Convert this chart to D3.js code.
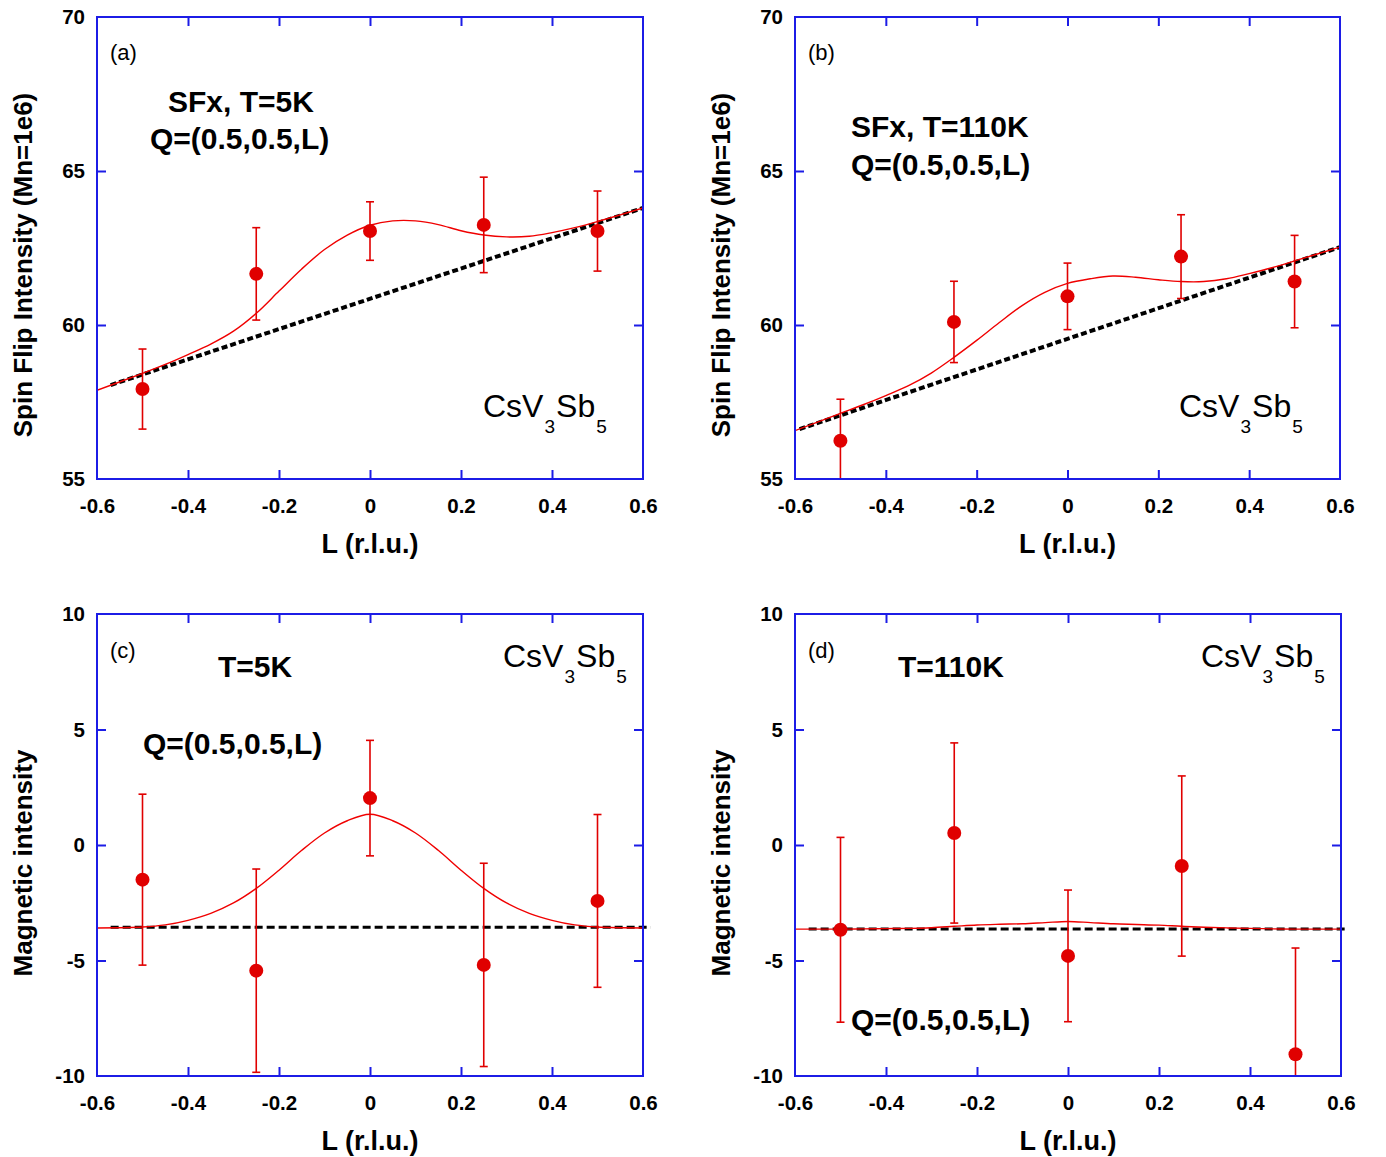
<!DOCTYPE html>
<html>
<head>
<meta charset="utf-8">
<script src="https://cdn.jsdelivr.net/npm/d3@7"></script>
<style>
  html, body { margin: 0; padding: 0; background: #fff; }
  svg { display: block; font-family: "Liberation Sans", Arial, Helvetica, sans-serif; }
</style>
</head>
<body>
<svg id="fig" width="1386" height="1157"></svg>
<script>
// ---- measured points: L positions shared by all four scans ----
const scanL = [-0.5, -0.25, 0, 0.25, 0.5];

// (a) spin-flip x, T = 5 K
const sf5K      = [57.92, 61.66, 63.05, 63.25, 63.05];
const sf5KErr   = [1.30, 1.50, 0.95, 1.55, 1.30];
// (b) spin-flip x, T = 110 K
const sf110K    = [56.24, 60.10, 60.93, 62.22, 61.41];
const sf110KErr = [1.35, 1.32, 1.08, 1.36, 1.50];
// (c) magnetic intensity, T = 5 K
const mag5K     = [-1.50, -5.44, 2.03, -5.19, -2.42];
const mag5KErr  = [3.70, 4.40, 2.50, 4.40, 3.74];
// (d) magnetic intensity, T = 110 K
const mag110K   = [-3.67, 0.52, -4.80, -0.91, -9.06];
const mag110KErr= [4.00, 3.90, 2.85, 3.90, 4.60];

// ---- fitted curves (sampled along L) ----
const fitL = [-0.6, -0.5, -0.45, -0.4, -0.35, -0.3, -0.25, -0.2, -0.15, -0.1, -0.05, 0, 0.05, 0.1, 0.15, 0.2, 0.25, 0.3, 0.35, 0.4, 0.45, 0.5, 0.6];
const fit5K     = [57.88, 58.43, 58.72, 59.04, 59.38, 59.80, 60.38, 61.10, 61.82, 62.45, 62.92, 63.24, 63.38, 63.38, 63.26, 63.06, 62.92, 62.86, 62.88, 63.00, 63.16, 63.36, 63.80];
const fit110K   = [56.57, 57.13, 57.41, 57.71, 58.03, 58.44, 58.95, 59.50, 60.08, 60.63, 61.06, 61.35, 61.50, 61.59, 61.55, 61.47, 61.41, 61.41, 61.50, 61.67, 61.86, 62.08, 62.53];
const fitMag5K  = [-3.59, -3.55, -3.46, -3.26, -2.96, -2.51, -1.88, -1.09, -0.23, 0.52, 1.05, 1.33, 1.05, 0.52, -0.23, -1.09, -1.88, -2.51, -2.96, -3.26, -3.46, -3.55, -3.59];
const fitMag110K= [-3.64, -3.64, -3.63, -3.62, -3.61, -3.58, -3.52, -3.46, -3.43, -3.41, -3.36, -3.31, -3.36, -3.41, -3.44, -3.47, -3.52, -3.56, -3.59, -3.61, -3.63, -3.64, -3.64];

// ---- linear backgrounds (end points) ----
const bg5KL     = [-0.57, 0.6],  bg5K     = [58.05, 63.80];
const bg110KL   = [-0.59, 0.6],  bg110K   = [56.62, 62.53];
const bgMag5KL  = [-0.57, 0.617], bgMag5K = [-3.56, -3.56];
const bgMag110KL= [-0.57, 0.61], bgMag110K= [-3.64, -3.64];

// ---- axes ----
const xTicks = [-0.6, -0.4, -0.2, 0, 0.2, 0.4, 0.6];
const xTickLabels = ["-0.6", "-0.4", "-0.2", "0", "0.2", "0.4", "0.6"];
const sfTicks = [55, 60, 65, 70];
const sfTickLabels = ["55", "60", "65", "70"];
const magTicks = [-10, -5, 0, 5, 10];
const magTickLabels = ["-10", "-5", "0", "5", "10"];

const BLUE = "#1c1ce6";
const RED = "#e00000";

const svg = d3.select("#fig");
svg.append("rect").attr("width", 1386).attr("height", 1157).attr("fill", "#fff");

function drawPanel(p) {
  const x = d3.scaleLinear().domain([-0.6, 0.6]).range([p.x0, p.x1]);
  const y = d3.scaleLinear().domain(p.yDomain).range([p.y1, p.y0]);
  const g = svg.append("g");

  const clipId = "clip-" + p.id;
  g.append("clipPath").attr("id", clipId)
    .append("rect").attr("x", p.x0).attr("y", p.y0)
    .attr("width", p.x1 - p.x0).attr("height", p.y1 - p.y0);

  // background line (dashed)
  const bgData = p.bgL.map((l, i) => [l, p.bg[i]]);
  g.append("path")
    .attr("d", d3.line().x(d => x(d[0])).y(d => y(d[1]))(bgData))
    .attr("fill", "none").attr("stroke", "#000")
    .attr("stroke-width", p.dashWidth).attr("stroke-dasharray", p.dash);

  // fitted curve
  const fitData = fitL.map((l, i) => [l, p.fit[i]]);
  g.append("path")
    .attr("clip-path", `url(#${clipId})`)
    .attr("d", d3.line().curve(d3.curveCatmullRom.alpha(0.5)).x(d => x(d[0])).y(d => y(d[1]))(fitData))
    .attr("fill", "none").attr("stroke", "#f00000").attr("stroke-width", 1.4);

  // error bars and points
  const pts = scanL.map((l, i) => ({ l, v: p.vals[i], e: p.errs[i] }));
  const eg = g.append("g").attr("clip-path", `url(#${clipId})`)
    .attr("stroke", RED).attr("stroke-width", 1.6);
  pts.forEach(d => {
    const cx = x(d.l);
    eg.append("line").attr("x1", cx).attr("x2", cx).attr("y1", y(d.v - d.e)).attr("y2", y(d.v + d.e));
    eg.append("line").attr("x1", cx - 4).attr("x2", cx + 4).attr("y1", y(d.v + d.e)).attr("y2", y(d.v + d.e));
    eg.append("line").attr("x1", cx - 4).attr("x2", cx + 4).attr("y1", y(d.v - d.e)).attr("y2", y(d.v - d.e));
  });
  g.selectAll("circle.pt").data(pts).join("circle")
    .attr("class", "pt")
    .attr("cx", d => x(d.l)).attr("cy", d => y(d.v)).attr("r", 7)
    .attr("fill", RED);

  // axes: ticks point inward on all four sides
  const tickLen = 9;
  const styleAxis = sel => {
    sel.select(".domain").remove();
    sel.selectAll(".tick line").attr("stroke", BLUE).attr("stroke-width", 2);
    sel.selectAll(".tick text").attr("fill", "#000").attr("font-size", 20.5)
      .attr("font-weight", "bold").attr("font-family", "Liberation Sans, Arial, sans-serif");
  };
  const xInner = xTicks.filter(t => t > -0.6 && t < 0.6);
  g.append("g").attr("transform", `translate(0,${p.y1})`)
    .call(d3.axisBottom(x).tickValues(xTicks).tickSize(-tickLen).tickPadding(19)
      .tickFormat((d, i) => xTickLabels[i]))
    .call(styleAxis)
    .call(s => s.selectAll(".tick line").filter(d => !xInner.includes(d)).remove());
  g.append("g").attr("transform", `translate(0,${p.y0})`)
    .call(d3.axisTop(x).tickValues(xInner).tickSize(-tickLen).tickFormat(""))
    .call(styleAxis);
  const yInner = p.yTicks.slice(1, -1);
  g.append("g").attr("transform", `translate(${p.x0},0)`)
    .call(d3.axisLeft(y).tickValues(p.yTicks).tickSize(-tickLen).tickPadding(12)
      .tickFormat((d, i) => p.yTickLabels[i]))
    .call(styleAxis)
    .call(s => s.selectAll(".tick line").filter(d => !yInner.includes(d)).remove());
  g.append("g").attr("transform", `translate(${p.x1},0)`)
    .call(d3.axisRight(y).tickValues(yInner).tickSize(-tickLen).tickFormat(""))
    .call(styleAxis);

  // frame
  g.append("rect").attr("x", p.x0).attr("y", p.y0)
    .attr("width", p.x1 - p.x0).attr("height", p.y1 - p.y0)
    .attr("fill", "none").attr("stroke", BLUE).attr("stroke-width", 2);

  // axis titles
  g.append("text")
    .attr("x", (p.x0 + p.x1) / 2).attr("y", p.y1 + 74)
    .attr("text-anchor", "middle").attr("font-size", 27).attr("font-weight", "bold")
    .text("L (r.l.u.)");
  g.append("text")
    .attr("transform", `translate(${p.x0 - 65},${(p.y0 + p.y1) / 2 + p.yTitleShift}) rotate(-90)`)
    .attr("text-anchor", "middle").attr("font-size", 26).attr("font-weight", "bold")
    .text(p.yTitle);

  // panel letter
  g.append("text").attr("x", p.x0 + 13).attr("y", p.letterY)
    .attr("font-size", 22).text(p.letter);

  // annotations
  p.notes.forEach(n => {
    g.append("text").attr("x", n.x).attr("y", n.y)
      .attr("font-size", 30).attr("font-weight", "bold").text(n.t);
  });

  // compound name with subscripts
  const f = g.append("text").attr("x", p.formula[0]).attr("y", p.formula[1]).attr("font-size", 32);
  f.append("tspan").text("CsV");
  f.append("tspan").attr("dx", 1).attr("dy", 16).attr("font-size", 19).text("3");
  f.append("tspan").attr("dx", 1).attr("dy", -16).text("Sb");
  f.append("tspan").attr("dx", 1).attr("dy", 16).attr("font-size", 19).text("5");
}

drawPanel({
  id: "a", x0: 97, x1: 643, y0: 17, y1: 479,
  yDomain: [55, 70], yTicks: sfTicks, yTickLabels: sfTickLabels,
  yTitle: "Spin Flip Intensity (Mn=1e6)", yTitleShift: 17,
  vals: sf5K, errs: sf5KErr, fit: fit5K, bgL: bg5KL, bg: bg5K,
  dash: "6,3", dashWidth: 4,
  letter: "(a)", letterY: 60,
  notes: [{ t: "SFx, T=5K", x: 168, y: 112 }, { t: "Q=(0.5,0.5,L)", x: 150, y: 149 }],
  formula: [483, 417]
});
drawPanel({
  id: "b", x0: 795, x1: 1340, y0: 17, y1: 479,
  yDomain: [55, 70], yTicks: sfTicks, yTickLabels: sfTickLabels,
  yTitle: "Spin Flip Intensity (Mn=1e6)", yTitleShift: 17,
  vals: sf110K, errs: sf110KErr, fit: fit110K, bgL: bg110KL, bg: bg110K,
  dash: "6,3", dashWidth: 4,
  letter: "(b)", letterY: 60,
  notes: [{ t: "SFx, T=110K", x: 851, y: 137 }, { t: "Q=(0.5,0.5,L)", x: 851, y: 175 }],
  formula: [1179, 417]
});
drawPanel({
  id: "c", x0: 97, x1: 643, y0: 614, y1: 1076,
  yDomain: [-10, 10], yTicks: magTicks, yTickLabels: magTickLabels,
  yTitle: "Magnetic intensity", yTitleShift: 18,
  vals: mag5K, errs: mag5KErr, fit: fitMag5K, bgL: bgMag5KL, bg: bgMag5K,
  dash: "8,4", dashWidth: 3,
  letter: "(c)", letterY: 658,
  notes: [{ t: "T=5K", x: 218, y: 677 }, { t: "Q=(0.5,0.5,L)", x: 143, y: 754 }],
  formula: [503, 667]
});
drawPanel({
  id: "d", x0: 795, x1: 1341, y0: 614, y1: 1076,
  yDomain: [-10, 10], yTicks: magTicks, yTickLabels: magTickLabels,
  yTitle: "Magnetic intensity", yTitleShift: 18,
  vals: mag110K, errs: mag110KErr, fit: fitMag110K, bgL: bgMag110KL, bg: bgMag110K,
  dash: "8,4", dashWidth: 3,
  letter: "(d)", letterY: 658,
  notes: [{ t: "T=110K", x: 898, y: 677 }, { t: "Q=(0.5,0.5,L)", x: 851, y: 1030 }],
  formula: [1201, 667]
});
</script>
</body>
</html>
